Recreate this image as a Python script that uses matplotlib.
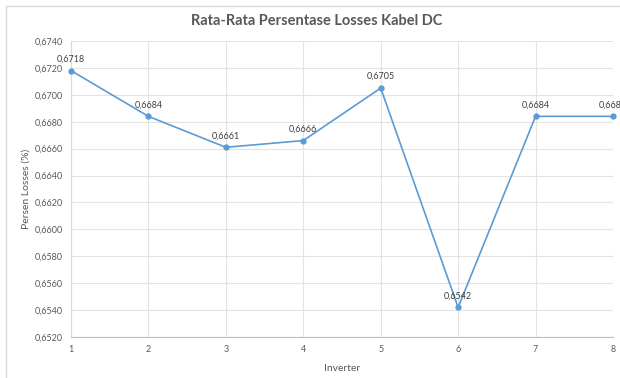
import matplotlib.pyplot as plt
from matplotlib.patches import Rectangle
from matplotlib.ticker import FuncFormatter

inverter = [1, 2, 3, 4, 5, 6, 7, 8]
losses = [0.6718, 0.6684, 0.6661, 0.6666, 0.6705, 0.6542, 0.6684, 0.6684]
y_ticks = [0.6520 + 0.0020 * i for i in range(12)]

plt.rcParams['font.family'] = ['Lato', 'DejaVu Sans']

fig = plt.figure(figsize=(6.2, 3.78), dpi=100)
ax = fig.add_axes([0.1145, 0.1085, 0.8742, 0.783])

# outer chart border
fig.patches.append(Rectangle((6 / 620, -0.1), 1.2, 1 - 6 / 378 + 0.1,
                             transform=fig.transFigure, fill=False,
                             edgecolor='#d9d9d9', linewidth=1))

line_color = '#5b9bd5'
ax.plot(inverter, losses, color=line_color, linewidth=1.2, marker='o',
        markersize=3.5, clip_on=False, zorder=3)

for x, y in zip(inverter, losses):
    ax.annotate('{:.4f}'.format(y).replace('.', ','), (x, y),
                xytext=(0, 5), textcoords='offset points', ha='center',
                va='bottom', fontsize=6.5, color='#404040',
                annotation_clip=False, zorder=4)

ax.set_xlim(1, 8)
ax.set_ylim(0.6520, 0.6740)
ax.set_xticks(inverter)
ax.set_yticks(y_ticks)
ax.yaxis.set_major_formatter(FuncFormatter(lambda v, p: '{:.4f}'.format(v).replace('.', ',')))
ax.grid(True, color='#e3e3e3', linewidth=0.8)
ax.set_axisbelow(True)
for side in ['top', 'right']:
    ax.spines[side].set_visible(False)
ax.spines['left'].set_color('#d9d9d9')
ax.spines['bottom'].set_color('#bfbfbf')
ax.tick_params(length=0, labelsize=6.5, labelcolor='#595959', pad=6)

ax.set_xlabel('Inverter', fontsize=7.5, color='#595959', labelpad=7)
ax.set_ylabel('Persen Losses (%)', fontsize=7.5, color='#595959', labelpad=3)
fig.text(0.51, 0.945, 'Rata-Rata Persentase Losses Kabel DC', ha='center',
         va='center', fontsize=10.5, fontweight='bold', color='#595959')

fig.savefig('out.png', dpi=100)
